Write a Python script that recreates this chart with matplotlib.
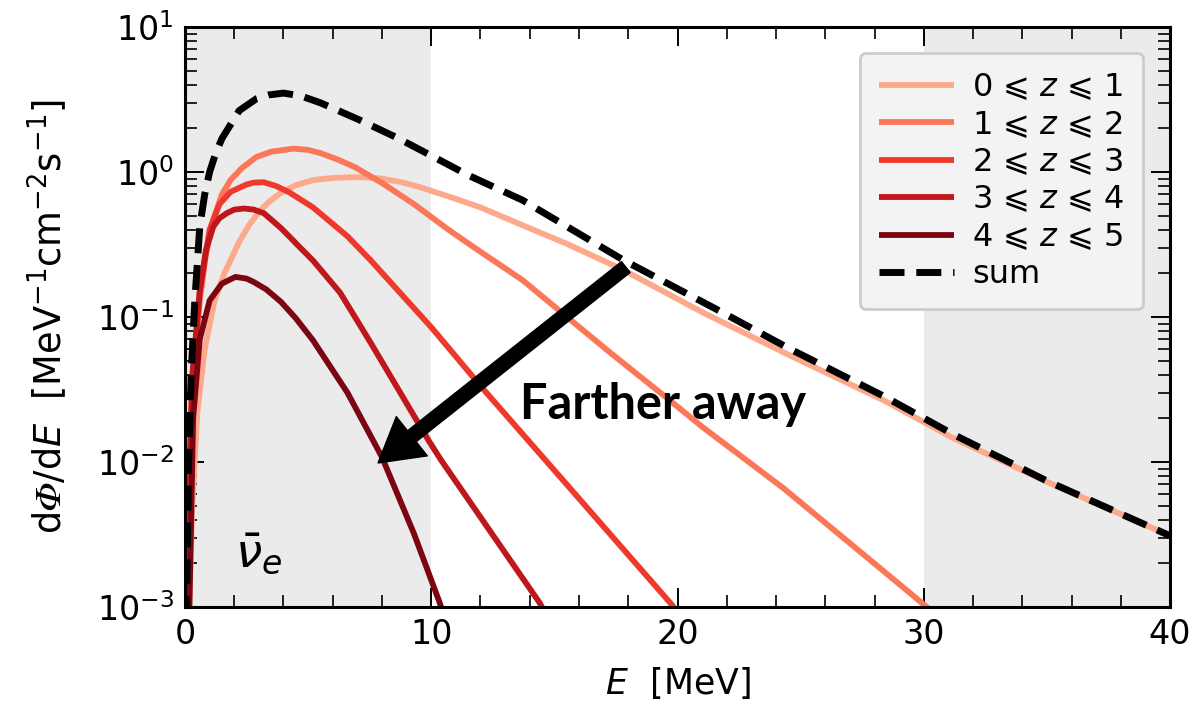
import matplotlib
matplotlib.use('Agg')
import matplotlib.pyplot as plt
from matplotlib.ticker import MultipleLocator, LogLocator, NullFormatter

# spectra, dPhi/dE in MeV^-1 cm^-2 s^-1
E_01 = [0.05, 0.2, 0.3, 0.5, 0.8, 1.2, 1.6, 2.2, 2.6, 3.0, 3.4, 3.9, 4.5, 5.2, 6.0, 6.7,
        7.3, 8.0, 8.8, 9.6, 10.8, 12.0, 13.7, 15.5, 17.8, 21.0, 24.5, 28.4, 31.2, 35.0, 40.0]
phi_01 = [0.0002, 0.0015, 0.005, 0.022, 0.06, 0.13, 0.2, 0.33, 0.43, 0.53, 0.62, 0.72,
          0.81, 0.88, 0.91, 0.92, 0.92, 0.90, 0.85, 0.78, 0.67, 0.57, 0.43, 0.32, 0.211,
          0.108, 0.055, 0.0265, 0.0146, 0.0073, 0.0031]

E_12 = [0.05, 0.15, 0.3, 0.6, 0.85, 1.15, 1.5, 1.85, 2.3, 2.9, 3.5, 4.4, 5.0, 5.5, 6.2,
        6.9, 8.0, 9.3, 10.7, 11.7, 13.7, 17.2, 19.7, 21.0, 24.3, 29.2, 31.0]
phi_12 = [0.0002, 0.004, 0.03, 0.13, 0.27, 0.47, 0.7, 0.88, 1.06, 1.27, 1.38, 1.45, 1.42,
          1.35, 1.22, 1.08, 0.84, 0.6, 0.40, 0.305, 0.18, 0.058, 0.0265, 0.0175, 0.0066,
          0.00135, 0.00075]

E_23 = [0.05, 0.15, 0.3, 0.6, 1.0, 1.4, 1.85, 2.5, 2.8, 3.2, 3.7, 4.2, 5.2, 6.6, 7.55,
        9.3, 10.0, 12.1, 15.6, 19.7, 20.3]
phi_23 = [0.0002, 0.005, 0.035, 0.15, 0.40, 0.6, 0.73, 0.82, 0.845, 0.85, 0.8, 0.73, 0.57,
          0.36, 0.245, 0.115, 0.085, 0.032, 0.0067, 0.00107, 0.0008]

E_34 = [0.05, 0.15, 0.3, 0.6, 0.85, 1.15, 1.4, 1.7, 2.0, 2.4, 2.8, 3.2, 3.5, 3.9, 4.3,
        4.6, 5.2, 6.3, 7.55, 9.9, 10.4, 14.4, 14.8]
phi_34 = [0.0002, 0.006, 0.04, 0.15, 0.29, 0.42, 0.48, 0.52, 0.55, 0.56, 0.55, 0.52, 0.47,
          0.41, 0.35, 0.31, 0.245, 0.147, 0.066, 0.014, 0.0103, 0.00107, 0.0008]

E_45 = [0.1, 0.2, 0.33, 0.6, 1.0, 1.5, 2.05, 2.5, 2.8, 3.3, 3.9, 4.5, 5.2, 6.6, 8.0, 9.3,
        10.3, 10.6]
phi_45 = [0.0002, 0.0015, 0.02, 0.07, 0.13, 0.17, 0.189, 0.184, 0.174, 0.155, 0.127,
          0.098, 0.069, 0.030, 0.0108, 0.0032, 0.00112, 0.0008]

E_sum = [0.05, 0.15, 0.25, 0.4, 0.6, 0.8, 1.0, 1.25, 1.5, 2.2, 2.9, 3.4, 4.0, 4.7, 5.5,
         7.1, 8.65, 10.1, 11.5, 13.7, 17.8, 21.8, 24.5, 28.4, 31.2, 35.0, 40.0]
phi_sum = [0.0008, 0.01, 0.04, 0.13, 0.42, 0.7, 1.0, 1.35, 1.7, 2.65, 3.2, 3.4, 3.5, 3.35,
           3.0, 2.28, 1.71, 1.27, 0.95, 0.64, 0.247, 0.108, 0.061, 0.0283, 0.0155,
           0.0074, 0.0031]

labels = ['0 ⩽ $z$ ⩽ 1', '1 ⩽ $z$ ⩽ 2', '2 ⩽ $z$ ⩽ 3', '3 ⩽ $z$ ⩽ 4', '4 ⩽ $z$ ⩽ 5']
energies = [E_01, E_12, E_23, E_34, E_45]
fluxes = [phi_01, phi_12, phi_23, phi_34, phi_45]
colors = ['#fca98c', '#fb7757', '#ee3a2c', '#c0171c', '#7b0611']

plt.rcParams['mathtext.fontset'] = 'dejavusans'
plt.rcParams['font.family'] = ['DejaVu Sans', 'STIXGeneral']

fig = plt.figure(figsize=(11.95, 7.18), dpi=100)
ax = fig.add_axes([0.1548, 0.1546, 0.8243, 0.8078])

# shaded energy windows
ax.axvspan(0, 10, color='#ebebeb', zorder=0, lw=0)
ax.axvspan(30, 40, color='#ebebeb', zorder=0, lw=0)

for e, phi, lab, c in zip(energies, fluxes, labels, colors):
    ax.plot(e, phi, color=c, lw=4.2, label=lab, solid_capstyle='butt')
ax.plot(E_sum, phi_sum, color='black', lw=5, ls=(0, (3.6, 1.7)), label='sum')

ax.set_yscale('log')
ax.set_xlim(0, 40)
ax.set_ylim(1e-3, 1e1)

ax.xaxis.set_major_locator(MultipleLocator(10))
ax.xaxis.set_minor_locator(MultipleLocator(2))
ax.yaxis.set_major_locator(LogLocator(base=10, numticks=10))
ax.yaxis.set_minor_locator(LogLocator(base=10, subs=range(2, 10), numticks=20))
ax.yaxis.set_minor_formatter(NullFormatter())
ax.tick_params(which='both', direction='in', top=True, right=True, labelsize=24)
ax.tick_params(which='major', length=14, width=1.4, pad=8)
ax.tick_params(which='minor', length=8.5, width=1.2)
for s in ax.spines.values():
    s.set_linewidth(2.2)

ax.set_xlabel(r'$E\ \ [\mathrm{MeV}]$', fontsize=25, labelpad=10)
ax.set_ylabel(r'$\mathrm{d}𝛷/\mathrm{d}E\ \ [\mathrm{MeV}^{-1}\mathrm{cm}^{-2}\mathrm{s}^{-1}]$',
              fontsize=26.5)
ax.yaxis.set_label_coords(-0.117, 0.5)

leg = ax.legend(loc='upper right', bbox_to_anchor=(0.9726, 0.955), borderaxespad=0,
                fontsize=23, handlelength=2.35, handletextpad=0.55, labelspacing=0.2,
                borderpad=0.6, fancybox=True, framealpha=1)
leg.get_frame().set_facecolor('#f3f3f3')
leg.get_frame().set_edgecolor('#cccccc')
leg.get_frame().set_linewidth(2)

ax.text(3.0, 0.0023, r'$\bar{\nu}_e$', fontsize=34, ha='center', va='center')

ax.annotate('', xy=(7.84, 0.00985), xytext=(17.9, 0.221),
            arrowprops=dict(facecolor='black', edgecolor='black', width=10,
                            headwidth=36, headlength=31, shrink=0))
ax.text(19.4, 0.025, 'Farther away', fontsize=35, fontweight='bold', family='Lato',
        ha='center', va='center')

fig.savefig('out.png', dpi=100)
